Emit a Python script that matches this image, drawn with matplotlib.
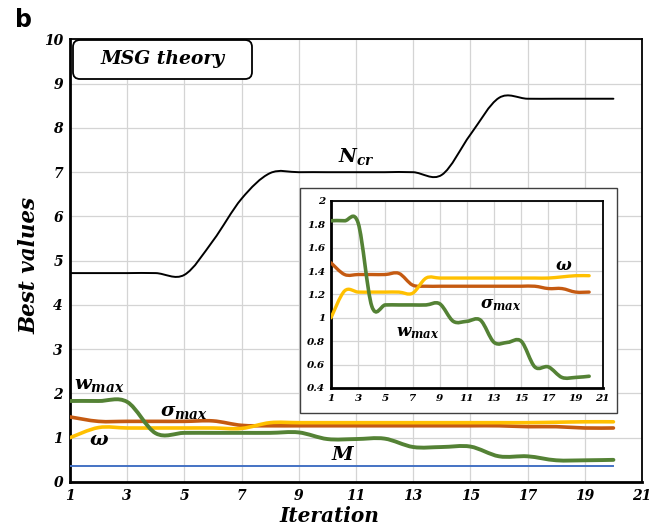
import numpy as np
import matplotlib
matplotlib.use("Agg")
import matplotlib.pyplot as plt
from matplotlib.path import Path
from matplotlib.patches import PathPatch, Rectangle, FancyBboxPatch

# data (iterations 1..20)
iterations = list(range(1, 21))
n_cr = [4.72, 4.72, 4.72, 4.72, 4.68, 5.45, 6.4, 6.98, 7.0, 7.0,
        7.0, 7.0, 7.0, 6.94, 7.85, 8.68, 8.66, 8.66, 8.66, 8.66]
w_max = [1.83, 1.83, 1.81, 1.1, 1.11, 1.11, 1.11, 1.11, 1.12, 0.97,
         0.97, 0.98, 0.79, 0.79, 0.8, 0.58, 0.58, 0.49, 0.49, 0.5]
sigma_max = [1.47, 1.37, 1.37, 1.37, 1.37, 1.38, 1.28, 1.27, 1.27, 1.27,
             1.27, 1.27, 1.27, 1.27, 1.27, 1.27, 1.25, 1.25, 1.22, 1.22]
omega = [1.0, 1.23, 1.22, 1.22, 1.22, 1.22, 1.21, 1.34, 1.34, 1.34,
         1.34, 1.34, 1.34, 1.34, 1.34, 1.34, 1.34, 1.35, 1.36, 1.36]
m_val = [0.37] * 20

main_xticks = list(range(1, 22, 2))
main_yticks = list(range(0, 11))
inset_yticks = [0.4, 0.6, 0.8, 1.0, 1.2, 1.4, 1.6, 1.8, 2.0]
inset_ylabels = ['0.4', '0.6', '0.8', '1', '1.2', '1.4', '1.6', '1.8', '2']

GREEN = '#548235'
ORANGE = '#C55A11'
YELLOW = '#FFC000'
BLUE = '#4472C4'

plt.rcParams['mathtext.fontset'] = 'custom'
plt.rcParams['mathtext.it'] = 'DejaVu Serif:italic:bold'
plt.rcParams['mathtext.rm'] = 'DejaVu Serif:bold'
plt.rcParams['mathtext.bf'] = 'DejaVu Serif:italic:bold'

serif_bi = dict(family='DejaVu Serif', weight='bold', style='italic')


def smooth_line(ax, x, y, color, lw, zorder=3):
    # excel-style smoothed line: catmull-rom segments as cubic beziers
    x = np.asarray(x, float)
    y = np.asarray(y, float)
    n = len(x)
    verts = [(x[0], y[0])]
    codes = [Path.MOVETO]
    for i in range(n - 1):
        i0 = max(i - 1, 0)
        i3 = min(i + 2, n - 1)
        c1 = (x[i] + (x[i + 1] - x[i0]) / 6, y[i] + (y[i + 1] - y[i0]) / 6)
        c2 = (x[i + 1] - (x[i3] - x[i]) / 6, y[i + 1] - (y[i3] - y[i]) / 6)
        verts += [c1, c2, (x[i + 1], y[i + 1])]
        codes += [Path.CURVE4] * 3
    patch = PathPatch(Path(verts, codes), fill=False, edgecolor=color,
                      lw=lw, capstyle='round', joinstyle='round', zorder=zorder)
    ax.add_patch(patch)


def style_axes(ax, xt, yt, ylabels, fs, lw_lb, lw_tr):
    ax.set_xticks(xt)
    ax.set_yticks(yt)
    ax.set_xticklabels([str(v) for v in xt], fontsize=fs, **serif_bi)
    ax.set_yticklabels(ylabels, fontsize=fs, **serif_bi)
    ax.tick_params(length=0, pad=5)
    ax.grid(True, color='#d4d4d4', lw=0.9)
    ax.set_axisbelow(True)
    for s in ['left', 'bottom']:
        ax.spines[s].set_linewidth(lw_lb)
    for s in ['top', 'right']:
        ax.spines[s].set_linewidth(lw_tr)


fig = plt.figure(figsize=(6.66, 5.30), dpi=100)
ax = fig.add_axes([0.105, 0.0906, 0.859, 0.835])
ax.set_xlim(1, 21)
ax.set_ylim(0, 10)
style_axes(ax, main_xticks, main_yticks, [str(v) for v in main_yticks], 10, 2.0, 1.3)

ax.plot(iterations, m_val, color=BLUE, lw=1.4, zorder=3)
smooth_line(ax, iterations, n_cr, 'black', 1.4)
smooth_line(ax, iterations, sigma_max, ORANGE, 2.6)
smooth_line(ax, iterations, omega, YELLOW, 2.6)
smooth_line(ax, iterations, w_max, GREEN, 2.8)

ax.text(11.0, 7.35, r'$N_{cr}$', fontsize=14, ha='center', va='center')
ax.text(1.15, 2.2, r'$w_{max}$', fontsize=14, ha='left', va='center')
ax.text(4.15, 1.6, r'$\sigma_{max}$', fontsize=14, ha='left', va='center')
ax.text(1.65, 0.95, r'$\omega$', fontsize=14, ha='left', va='center')
ax.text(10.55, 0.62, r'$M$', fontsize=14, ha='center', va='center')

# "MSG theory" box (in inches so the corners stay round)
box = FancyBboxPatch((0.73, 4.51), 1.79, 0.39,
                     boxstyle='round,pad=0,rounding_size=0.07',
                     transform=fig.dpi_scale_trans, facecolor='white',
                     edgecolor='black', lw=1.3, zorder=5, clip_on=False)
ax.add_patch(box)
fig.text(1.625, 4.705, 'MSG theory', transform=fig.dpi_scale_trans,
         fontsize=13.5, ha='center', va='center', zorder=6, **serif_bi)

fig.text(0.045, 0.5, 'Best values', rotation=90, fontsize=15.5,
         ha='center', va='center', **serif_bi)
fig.text(0.495, 0.026, 'Iteration', fontsize=14.5, ha='center',
         va='center', **serif_bi)
fig.text(0.022, 0.962, 'b', fontsize=17, weight='bold', family='DejaVu Sans',
         ha='left', va='center')

# inset panel
frame = Rectangle((0.450, 0.221), 0.477, 0.4245, transform=fig.transFigure,
                  facecolor='white', edgecolor='#404040', lw=1.0, zorder=1)
fig.patches.append(frame)

axi = fig.add_axes([0.497, 0.268, 0.408, 0.353])
axi.set_zorder(2)
axi.set_xlim(1, 21)
axi.set_ylim(0.4, 2.0)
style_axes(axi, main_xticks, inset_yticks, inset_ylabels, 7.5, 2.0, 1.3)
axi.tick_params(length=0, pad=4)

smooth_line(axi, iterations, sigma_max, ORANGE, 2.4)
smooth_line(axi, iterations, omega, YELLOW, 2.4)
smooth_line(axi, iterations, w_max, GREEN, 2.6)

axi.text(18.1, 1.45, r'$\omega$', fontsize=12, ha='center', va='center')
axi.text(12.0, 1.12, r'$\sigma_{max}$', fontsize=12, ha='left', va='center')
axi.text(5.8, 0.88, r'$w_{max}$', fontsize=12, ha='left', va='center')

fig.savefig('out.png', dpi=100)
